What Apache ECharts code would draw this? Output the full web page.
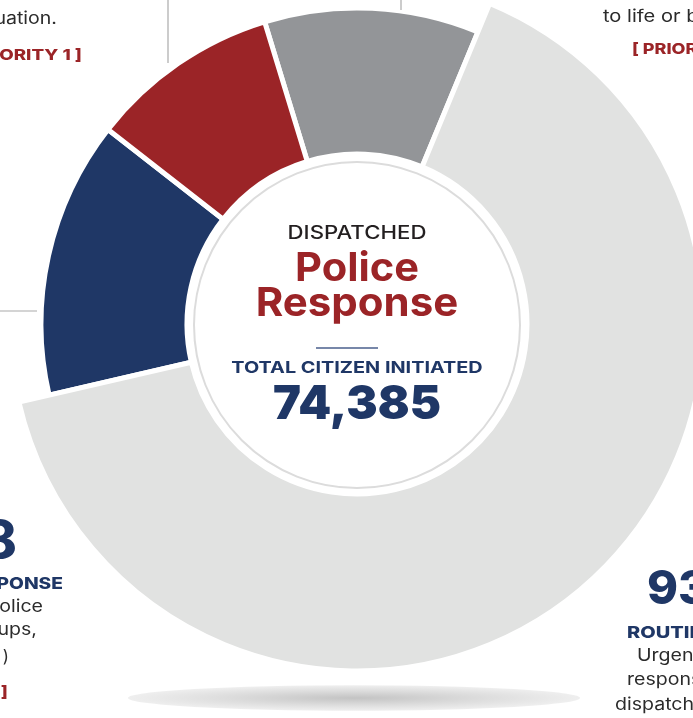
<!DOCTYPE html>
<html><head><meta charset="utf-8">
<script src="https://cdn.jsdelivr.net/npm/echarts@6/dist/echarts.min.js"></script>
<style>html,body{margin:0;padding:0;background:#fff}#c{width:693px;height:718px}</style>
</head><body><div id="c"></div>
<script>
// Data (clockwise from the top slice)
const categories = ['PRIORITY 0', 'ROUTINE', 'URGENT RESPONSE', 'PRIORITY 1'];
const values = [8160, 48455, 10540, 7230];
const colors = ['#939598', '#e1e2e1', '#1f3766', '#9b2427'];
const totalLabel = '74,385';

const NAVY = '#1f3766', RED = '#9b2427', DARK = '#2b2b2b';
const F = 'Inter, "Open Sans", sans-serif';
const CX = 357, CY = 324;
const bigIndex = 1;

function makeData(showBig) {
  return categories.map((c, i) => {
    const visible = showBig ? i === bigIndex : i !== bigIndex;
    return {
      name: c, value: values[i],
      itemStyle: visible ? { color: colors[i], borderColor: '#fff', borderWidth: 5 }
                         : { color: 'rgba(0,0,0,0)', borderWidth: 0 }
    };
  });
}

const chart = echarts.init(document.getElementById('c'), null, { renderer: 'canvas' });

function txt(text, x, y, size, weight, color, align, sx) {
  return { type: 'text', x: x, y: y, scaleX: sx || 1, silent: true, z: 10,
    style: { text: text, font: weight + ' ' + size + 'px ' + F, fill: color,
             textAlign: align || 'center', textVerticalAlign: 'middle' } };
}
function line(x1, y1, x2, y2, color, w) {
  return { type: 'line', silent: true, z: 10, shape: { x1, y1, x2, y2 },
    style: { stroke: color, lineWidth: w } };
}

chart.setOption({
  animation: false,
  series: [
    { type: 'pie', silent: true, center: [CX, CY], radius: [170, 316], startAngle: 107,
      clockwise: true, label: { show: false }, labelLine: { show: false },
      data: makeData(false), z: 2 },
    { type: 'pie', silent: true, center: [CX, CY], radius: [170, 347], startAngle: 107,
      clockwise: true, label: { show: false }, labelLine: { show: false },
      data: makeData(true), z: 3 }
  ],
  graphic: [
    { type: 'circle', silent: true, z: 5, shape: { cx: CX, cy: CY + 1, r: 163 },
      style: { fill: '#fff', stroke: '#dcdcdc', lineWidth: 2 } },
    { type: 'circle', silent: true, z: 1, shape: { cx: 0, cy: 0, r: 226 }, x: 354, y: 698, scaleY: 0.056,
      style: { fill: new echarts.graphic.RadialGradient(0.5, 0.5, 0.5, [
        { offset: 0, color: '#c3c3c3' }, { offset: 0.55, color: '#dcdcdc' }, { offset: 1, color: '#efefef' }]) } },
    // connector lines
    line(168, 0, 168, 63, '#aaaaaa', 1.2),
    line(401, 0, 401, 10, '#aaaaaa', 1.2),
    line(0, 311, 37, 311, '#aaaaaa', 1.2),
    // centre
    txt('DISPATCHED', CX, 233, 18.5, 500, '#231f20', 'center', 1.2),
    txt('Police', CX, 269, 40, 700, RED, 'center', 1.04),
    txt('Response', CX, 304, 40, 700, RED, 'center', 1.05),
    line(316, 348, 378, 348, '#4a5f8c', 1.5),
    txt('TOTAL CITIZEN INITIATED', CX, 368, 16, 700, NAVY, 'center', 1.24),
    txt(totalLabel, CX, 405, 47, 900, NAVY),
    // top-left
    txt('situation.', 57, 19, 17, 400, DARK, 'right', 1.15),
    txt('[ PRIORITY 1 ]', 82, 55, 15, 800, RED, 'right', 1.25),
    // top-right
    txt('to life or b', 603, 17, 17, 400, DARK, 'left', 1.18),
    txt('[ PRIORITY', 632, 49, 15, 800, RED, 'left', 1.2),
    // bottom-left
    txt('8', 17, 542, 52, 800, NAVY, 'right'),
    txt('RESPONSE', 63, 584, 16, 800, NAVY, 'right', 1.2),
    txt('police', 43, 607, 17, 400, DARK, 'right', 1.15),
    txt('ups,', 37, 630, 17, 400, DARK, 'right', 1.15),
    txt(')', 9, 657, 17, 400, DARK, 'right'),
    txt('[ PRIORITY 2 ]', 8, 692, 15, 800, RED, 'right', 1.25),
    // bottom-right
    txt('93', 647, 590, 47, 800, NAVY, 'left'),
    txt('ROUTINE', 627, 633, 16, 800, NAVY, 'left', 1.25),
    txt('Urgent', 637, 656, 17, 400, DARK, 'left', 1.15),
    txt('response', 627, 680, 17, 400, DARK, 'left', 1.15),
    txt('dispatched', 615, 705, 17, 400, DARK, 'left', 1.15)
  ]
});
</script>
</body></html>
